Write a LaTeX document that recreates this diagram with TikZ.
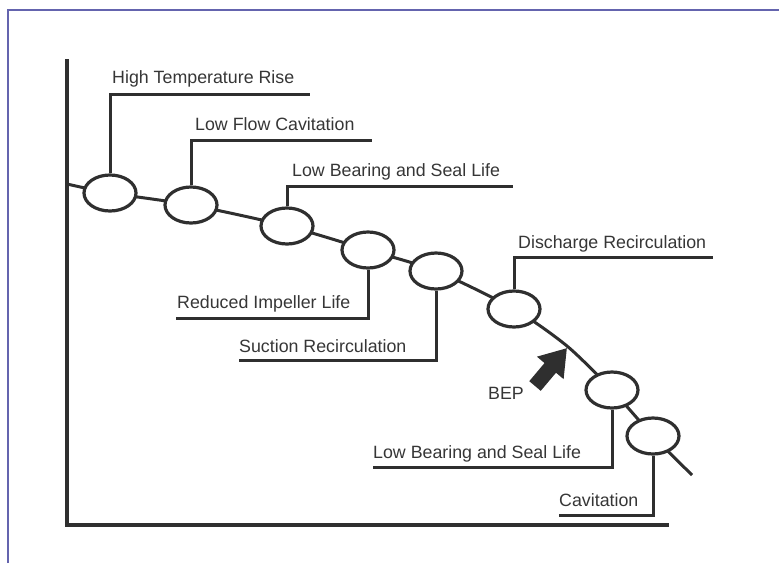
\documentclass[tikz,border=0pt]{standalone}
\usepackage{fontspec}
\setmainfont{Liberation Sans}
\usetikzlibrary{arrows.meta, positioning, shapes.geometric}
\definecolor{frameblue}{HTML}{6464AE}
\definecolor{inkgray}{HTML}{2F2F2F}
\definecolor{txtgray}{HTML}{363636}

\begin{document}
\begin{tikzpicture}[
  x=1pt, y=-1pt,
  opring/.style={
    draw=inkgray, line width=3.2pt, fill=white, ellipse,
    minimum width=52pt, minimum height=36pt, inner sep=0pt
  },
  lead/.style={line width=3pt, inkgray},
  lbl/.style={font=\fontsize{17.8}{20}\selectfont, text=txtgray, inner sep=0pt},
  bep/.style={-{Triangle[length=26pt, width=33pt]}, line width=15pt, inkgray},
]

\useasboundingbox (0,0) rectangle (779,563);

% Frame
\draw[frameblue, line width=2pt] (8,563) -- (8,10) -- (779,10);

% =============================================
% Axes
% =============================================
\coordinate (ytop) at (67,59);
\coordinate (orig) at (67,525);
\coordinate (xend) at (669,525);
\draw[lead, line width=3.2pt] (ytop) -- (orig) -- (xend);

% =============================================
% Head-flow curve through operating points
% =============================================
\coordinate (c0) at (67,184);
\coordinate (c1) at (110,193);
\coordinate (c2) at (191,205);
\coordinate (c3) at (287,226);
\coordinate (c4) at (368,250);
\coordinate (c5) at (436,271);
\coordinate (c6) at (514,309);
\coordinate (cb) at (567,346);
\coordinate (c7) at (612,390);
\coordinate (c8) at (653,436);
\coordinate (c9) at (692,475);

\draw[lead] plot[smooth, tension=0.45] coordinates
  {(c0) (c1) (c2) (c3) (c4) (c5) (c6) (cb) (c7) (c8) (c9)};

\foreach \i in {1,...,8}
  \node[opring] (e\i) at (c\i) {};

% =============================================
% Upper labels
% =============================================
\coordinate (h1) at (310,94);
\draw[lead] (e1.north) |- (h1);
\node[lbl, anchor=base west] (t1) at (112,83) {High Temperature Rise};

\coordinate (h2) at (372,140);
\draw[lead] (e2.north) |- (h2);
\node[lbl, anchor=base west] (t2) at (195,130) {Low Flow Cavitation};

\coordinate (h3) at (513,186);
\draw[lead] (e3.north) |- (h3);
\node[lbl, anchor=base west] (t3) at (292,176) {Low Bearing and Seal Life};

\coordinate (h6) at (713,257);
\draw[lead] (e6.north) |- (h6);
\node[lbl, anchor=base west] (t6) at (518,248) {Discharge Recirculation};

% =============================================
% Lower labels
% =============================================
\coordinate (h4) at (176,318);
\draw[lead] (e4.south) |- (h4);
\node[lbl, anchor=base west] (t4) at (177,308) {Reduced Impeller Life};

\coordinate (h5) at (239,360);
\draw[lead] (e5.south) |- (h5);
\node[lbl, anchor=base west] (t5) at (239,352) {Suction Recirculation};

\coordinate (h7) at (373,467);
\draw[lead] (e7.south) |- (h7);
\node[lbl, anchor=base west] (t7) at (373,458) {Low Bearing and Seal Life};

\coordinate (h8) at (559,515);
\draw[lead] (e8.south) |- (h8);
\node[lbl, anchor=base west] (t8) at (559,506) {Cavitation};

% =============================================
% Best efficiency point
% =============================================
\coordinate (beptail) at (535,386);
\coordinate (beptip) at (567,348);
\draw[bep] (beptail) -- (beptip);
\node[lbl] (bepl) at (506,393) {BEP};

\end{tikzpicture}
\end{document}
